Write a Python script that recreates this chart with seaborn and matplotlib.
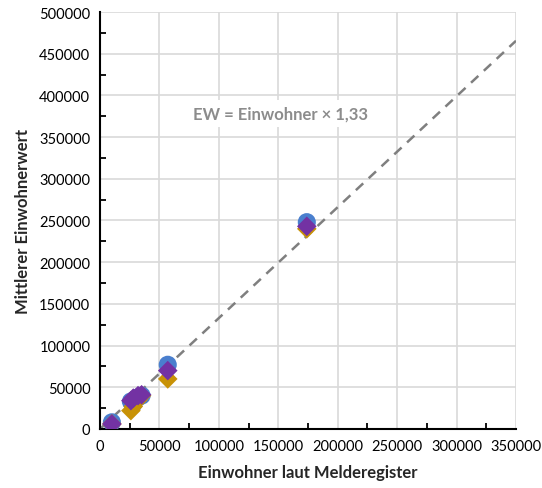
import numpy as np
import pandas as pd
import matplotlib
matplotlib.use('Agg')
import matplotlib.pyplot as plt
import seaborn as sns
from matplotlib.ticker import MultipleLocator

# Einwohner laut Melderegister und mittlere Einwohnerwerte je Methode
einwohner = [10000, 26000, 28000, 32000, 35000, 57000, 174000]
ew_blau = [8000, 33000, 30000, 38000, 40000, 77000, 248000]
ew_gold = [6000, 22000, 27000, 35000, 40000, 60000, 240000]
ew_lila = [6000, 34000, 37000, 40000, 41000, 70000, 243000]
faktor = 1.33
x_linie = [0, 350000]

sns.set_style('white')
plt.rcParams['font.family'] = ['Lato', 'DejaVu Sans']

fig = plt.figure(figsize=(5.42, 4.89), dpi=100)
ax = fig.add_axes([0.1845, 0.1207, 0.7675, 0.8527])

# Gestrichelte Linie EW = Einwohner x 1,33
linie = pd.DataFrame({'x': x_linie, 'y': [v * faktor for v in x_linie]})
sns.lineplot(data=linie, x='x', y='y', ax=ax, color='#7f7f7f', lw=1.8,
             linestyle=(0, (4, 3)), zorder=2)

sns.scatterplot(x=einwohner, y=ew_blau, ax=ax, marker='o', s=170,
                color='#4a7fce', edgecolor='none', zorder=3)
sns.scatterplot(x=einwohner, y=ew_gold, ax=ax, marker='D', s=100,
                color='#c89206', edgecolor='none', zorder=4)
sns.scatterplot(x=einwohner, y=ew_lila, ax=ax, marker='D', s=100,
                color='#7332a3', edgecolor='none', zorder=5)

ax.set_xlim(0, 350000)
ax.set_ylim(0, 500000)
ax.xaxis.set_major_locator(MultipleLocator(50000))
ax.yaxis.set_major_locator(MultipleLocator(50000))
ax.xaxis.set_minor_locator(MultipleLocator(25000))
ax.yaxis.set_minor_locator(MultipleLocator(25000))
ax.grid(True, which='major', color='#d9d9d9', lw=1.2)
ax.set_axisbelow(True)

for s in ['top', 'right']:
    ax.spines[s].set_visible(False)
for s in ['left', 'bottom']:
    ax.spines[s].set_color('black')
    ax.spines[s].set_linewidth(1.5)

ax.tick_params(which='major', direction='inout', length=7, width=1.3,
               labelsize=10.5, colors='black')
ax.tick_params(which='minor', direction='in', length=4, width=1.3,
               colors='black', left=True, bottom=True)

ax.set_xlabel('Einwohner laut Melderegister', fontsize=12,
              fontweight='bold', labelpad=8)
ax.set_ylabel('Mittlerer Einwohnerwert', fontsize=12,
              fontweight='bold', labelpad=6)

ax.text(152000, 378000, 'EW = Einwohner × 1,33', fontsize=12,
        fontweight='bold', color='#8c8c8c', ha='center', va='center',
        bbox=dict(facecolor='white', edgecolor='none', pad=4), zorder=6)

fig.savefig('out.png', dpi=100)
